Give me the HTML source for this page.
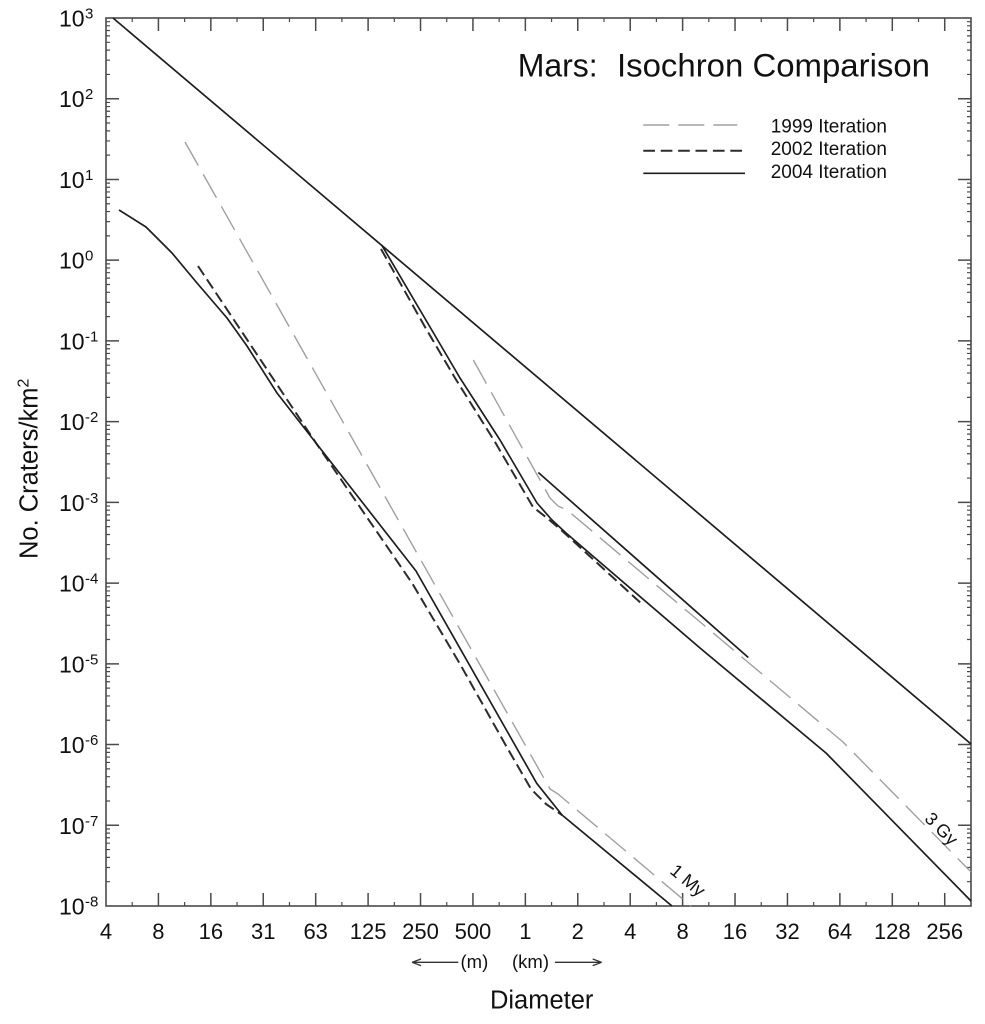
<!DOCTYPE html>
<html><head><meta charset="utf-8"><style>
html,body{margin:0;padding:0;background:#fff;}
svg{display:block;}
text{font-family:"Liberation Sans",Arial,sans-serif;fill:#111;}
</style></head><body>
<svg width="985" height="1024" viewBox="0 0 985 1024" xmlns="http://www.w3.org/2000/svg">
<defs>
<g id="ydec" stroke="#4a4a4a" stroke-width="1.2">
<path d="M106,-24.30h4M106,-38.52h4M106,-48.60h4M106,-56.43h4M106,-62.82h4M106,-68.22h4M106,-72.90h4M106,-77.03h4M971,-24.30h-4M971,-38.52h-4M971,-48.60h-4M971,-56.43h-4M971,-62.82h-4M971,-68.22h-4M971,-72.90h-4M971,-77.03h-4"/>
</g>
</defs>
<rect x="0" y="0" width="985" height="1024" fill="#fff"/>
<!-- minor y ticks -->
<use href="#ydec" y="98.73"/><use href="#ydec" y="179.45"/><use href="#ydec" y="260.18"/><use href="#ydec" y="340.91"/><use href="#ydec" y="421.64"/><use href="#ydec" y="502.36"/><use href="#ydec" y="583.09"/><use href="#ydec" y="663.82"/><use href="#ydec" y="744.54"/><use href="#ydec" y="825.27"/><use href="#ydec" y="906"/>
<!-- major y ticks -->
<path stroke="#4a4a4a" stroke-width="1.5" d="M106,98.73h13M106,179.45h13M106,260.18h13M106,340.91h13M106,421.64h13M106,502.36h13M106,583.09h13M106,663.82h13M106,744.54h13M106,825.27h13M971,98.73h-13M971,179.45h-13M971,260.18h-13M971,340.91h-13M971,421.64h-13M971,502.36h-13M971,583.09h-13M971,663.82h-13M971,744.54h-13M971,825.27h-13"/>
<!-- x ticks bottom & top -->
<path stroke="#4a4a4a" stroke-width="1.5" d="M158.42,906v-13M210.84,906v-13M263.26,906v-13M315.68,906v-13M368.1,906v-13M420.52,906v-13M472.94,906v-13M525.36,906v-13M577.78,906v-13M630.2,906v-13M682.62,906v-13M735.04,906v-13M787.46,906v-13M839.88,906v-13M892.3,906v-13M944.72,906v-13M158.42,18v13M210.84,18v13M263.26,18v13M315.68,18v13M368.1,18v13M420.52,18v13M472.94,18v13M525.36,18v13M577.78,18v13M630.2,18v13M682.62,18v13M735.04,18v13M787.46,18v13M839.88,18v13M892.3,18v13M944.72,18v13"/>
<path stroke="#4a4a4a" stroke-width="1.2" d="M132.21,906v-4M184.63,906v-4M237.05,906v-4M289.47,906v-4M341.89,906v-4M394.31,906v-4M446.73,906v-4M499.15,906v-4M551.57,906v-4M603.99,906v-4M656.41,906v-4M708.83,906v-4M761.25,906v-4M813.67,906v-4M866.09,906v-4M918.51,906v-4M132.21,18v4M184.63,18v4M237.05,18v4M289.47,18v4M341.89,18v4M394.31,18v4M446.73,18v4M499.15,18v4M551.57,18v4M603.99,18v4M656.41,18v4M708.83,18v4M761.25,18v4M813.67,18v4M866.09,18v4M918.51,18v4"/>
<!-- frame -->
<rect x="106" y="18" width="865" height="888" fill="none" stroke="#4a4a4a" stroke-width="1.6"/>

<!-- series -->
<g fill="none" stroke-linejoin="round">
<path d="M113,18 L971,744" stroke="#1e1e1e" stroke-width="1.7"/>
<!-- 1999 gray -->
<path d="M185,142 L550,789 L558,794 L691,906" stroke="#a0a0a0" stroke-width="1.4" stroke-dasharray="27 10"/>
<path d="M473.3,360 L550,498 L558,506 L567,510 L712,632 L843,742 L971,872" stroke="#a0a0a0" stroke-width="1.4" stroke-dasharray="27 10"/>
<!-- 2002 dashed -->
<path d="M198,266 L316,443 L412,583 L460,664 L505,744 L531,789 L546,804 L562,815" stroke="#2c2c2c" stroke-width="2" stroke-dasharray="11 5"/>
<path d="M381,249 L425,327 L455,378 L495,442 L533,507 L547,518 L560,529 L643,605" stroke="#2c2c2c" stroke-width="2" stroke-dasharray="11 5"/>
<!-- 2004 solid -->
<path d="M119,210 L146,227 L172,253 L197,283 L227,318 L247,346 L277,393 L316,443 L416,571 L536.7,783.3 L562,815 L672,906" stroke="#1e1e1e" stroke-width="1.7"/>
<path d="M381.7,245 L430,327 L460,378 L500,440 L537,503 L552,520 L566,533 L700,648 L826,753 L971,901" stroke="#1e1e1e" stroke-width="1.7"/>
<path d="M538.3,472.5 L748.3,657.5" stroke="#1e1e1e" stroke-width="1.7"/>
</g>

<!-- curve labels -->
<text x="0" y="0" font-size="18" text-anchor="middle" transform="translate(684,885) rotate(40)">1 My</text>
<text x="0" y="0" font-size="18" text-anchor="middle" transform="translate(937,833) rotate(45)">3 Gy</text>

<!-- title -->
<text x="517.7" y="76.7" font-size="32">Mars:</text>
<text x="617" y="76.7" font-size="32" textLength="313" lengthAdjust="spacingAndGlyphs">Isochron Comparison</text>

<!-- legend -->
<line x1="643.3" y1="125" x2="737.3" y2="125" stroke="#a0a0a0" stroke-width="1.4" stroke-dasharray="26 9"/>
<line x1="643.3" y1="150.7" x2="745" y2="150.7" stroke="#2c2c2c" stroke-width="2" stroke-dasharray="11.7 5.7"/>
<line x1="643.3" y1="173.3" x2="745" y2="173.3" stroke="#1e1e1e" stroke-width="1.7"/>
<text x="770.7" y="132.6" font-size="19">1999 Iteration</text>
<text x="770.7" y="155.2" font-size="19">2002 Iteration</text>
<text x="770.7" y="178.2" font-size="19">2004 Iteration</text>

<!-- y labels -->
<g font-size="23">
<text x="59" y="26.5">10</text><text x="59" y="107.2">10</text><text x="59" y="188">10</text><text x="59" y="268.7">10</text><text x="59" y="349.4">10</text><text x="59" y="430.1">10</text><text x="59" y="510.9">10</text><text x="59" y="591.6">10</text><text x="59" y="672.3">10</text><text x="59" y="753">10</text><text x="59" y="833.8">10</text><text x="59" y="914.5">10</text>
</g>
<g font-size="15">
<text x="85" y="18.5">3</text><text x="85" y="99.2">2</text><text x="85" y="180">1</text><text x="85" y="260.7">0</text><text x="85" y="341.4">-1</text><text x="85" y="422.1">-2</text><text x="85" y="502.9">-3</text><text x="85" y="583.6">-4</text><text x="85" y="664.3">-5</text><text x="85" y="745">-6</text><text x="85" y="825.8">-7</text><text x="85" y="906.5">-8</text>
</g>

<!-- x labels -->
<g font-size="22" text-anchor="middle">
<text x="106" y="939">4</text><text x="158.42" y="939">8</text><text x="210.84" y="939">16</text><text x="263.26" y="939">31</text><text x="315.68" y="939">63</text><text x="368.1" y="939">125</text><text x="420.52" y="939">250</text><text x="472.94" y="939">500</text><text x="525.36" y="939">1</text><text x="577.78" y="939">2</text><text x="630.2" y="939">4</text><text x="682.62" y="939">8</text><text x="735.04" y="939">16</text><text x="787.46" y="939">32</text><text x="839.88" y="939">64</text><text x="892.3" y="939">128</text><text x="944.72" y="939">256</text>
</g>

<!-- unit arrows -->
<g stroke="#333" stroke-width="1.3" fill="none">
<path d="M412,962.3 H458.3 M412,962.3 L421,959 M412,962.3 L421,965.6"/>
<path d="M555,962.3 H601.7 M601.7,962.3 L592.7,959 M601.7,962.3 L592.7,965.6"/>
</g>
<text x="460.5" y="968" font-size="18.5">(m)</text>
<text x="512" y="968" font-size="18.5">(km)</text>

<!-- axis titles -->
<text x="541.7" y="1008.3" font-size="25.5" text-anchor="middle">Diameter</text>
<text x="0" y="0" font-size="25.5" transform="translate(37.3,559) rotate(-90)">No. Craters/km<tspan font-size="16" dy="-9">2</tspan></text>
</svg>
</body></html>
